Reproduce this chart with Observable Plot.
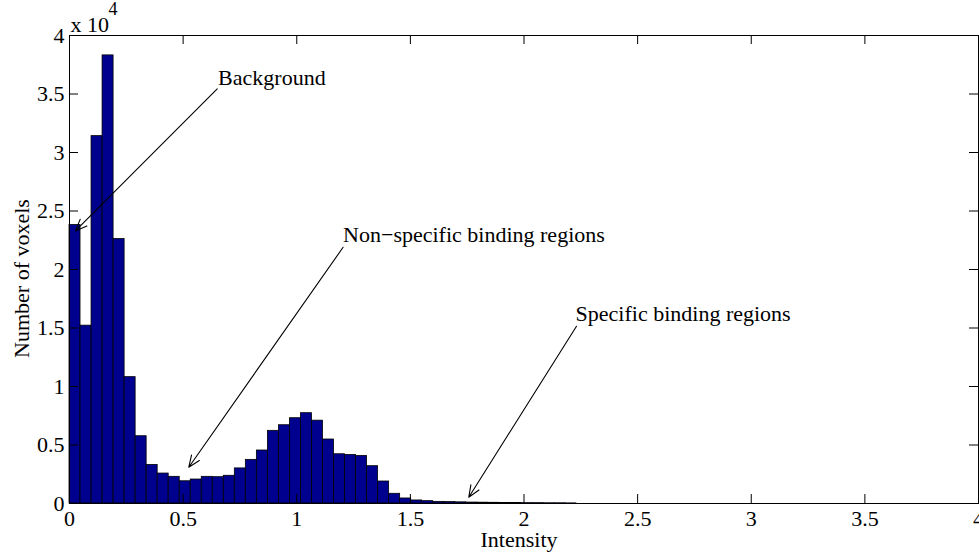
<!DOCTYPE html>
<html><head><meta charset="utf-8">
<script src="https://cdn.jsdelivr.net/npm/d3@7"></script>
<script src="https://cdn.jsdelivr.net/npm/@observablehq/plot@0.6"></script>
<style>body{margin:0;background:#fff}</style>
</head><body><div id="chart"></div>
<script>
// Histogram bin width (intensity units) and counts per bin
const binWidth = 0.0485;
const counts = [
  23800, 15200, 31400, 38300, 22600, 10800, 5750, 3300, 2560, 2280,
  1900, 2050, 2280, 2250, 2370, 3000, 3730, 4530, 6210, 6690,
  7290, 7720, 7080, 5470, 4210, 4150, 4070, 3190, 1880, 830,
  430, 260, 200, 140, 120, 100, 80, 70, 60, 50,
  40, 30, 30, 20, 20, 10
];
const xTicks = [0, 0.5, 1, 1.5, 2, 2.5, 3, 3.5, 4];
const yTicks = [0, 5000, 10000, 15000, 20000, 25000, 30000, 35000, 40000];

// Annotations (data coordinates)
const annLabels = ["Background", "Non\u2212specific binding regions", "Specific binding regions"];
const annTextX = [0.654, 1.204, 2.227];
const annTextY = [35790, 22310, 15560];
const arrowFromX = [0.65, 1.204, 2.231];
const arrowFromY = [35440, 21900, 15150];
const arrowToX = [0.026, 0.525, 1.757];
const arrowToY = [23300, 3100, 540];

const bars = counts.map((c, i) => ({x1: i * binWidth, x2: (i + 1) * binWidth, y: c}));
const ann = annLabels.map((_, i) => i);

const W = 979, H = 554, mL = 69, mR = 1, mT = 35, mB = 51;
const innerW = W - mL - mR, innerH = H - mT - mB;
const tick = 9;

const chart = Plot.plot({
  width: W, height: H,
  marginLeft: mL, marginRight: mR, marginTop: mT, marginBottom: mB,
  style: {fontFamily: '"Liberation Serif", "Times New Roman", serif', fontSize: "22px", background: "white", color: "black"},
  x: {domain: [0, 4]},
  y: {domain: [0, 40000]},
  marks: [
    Plot.rectY(bars, {x1: "x1", x2: "x2", y: "y", fill: "#00008f", stroke: "black", strokeWidth: 0.8}),
    Plot.frame({stroke: "black", strokeWidth: 1}),
    Plot.tickX(xTicks, {x: d => d, insetTop: innerH - tick, stroke: "black"}),
    Plot.tickX(xTicks, {x: d => d, insetBottom: innerH - tick, stroke: "black"}),
    Plot.tickY(yTicks, {y: d => d, insetRight: innerW - tick, stroke: "black"}),
    Plot.tickY(yTicks, {y: d => d, insetLeft: innerW - tick, stroke: "black"}),
    Plot.axisX({ticks: xTicks, tickSize: 0, tickPadding: 7, tickFormat: d => String(d), label: null}),
    Plot.axisY({ticks: yTicks, tickSize: 0, tickPadding: 5, tickFormat: d => String(d / 1e4), label: null}),
    Plot.text(["x 10"], {frameAnchor: "top-left", textAnchor: "start", lineAnchor: "bottom", dx: 1, dy: -3.5}),
    Plot.text(["4"], {frameAnchor: "top-left", textAnchor: "start", lineAnchor: "bottom", dx: 39, dy: -21, fontSize: 18}),
    Plot.text(["Intensity"], {frameAnchor: "bottom", textAnchor: "middle", lineAnchor: "bottom", dx: -5, dy: 43}),
    Plot.text(["Number of voxels"], {frameAnchor: "left", textAnchor: "middle", lineAnchor: "bottom", rotate: -90, dx: -41, dy: 9}),
    Plot.arrow(ann, {x1: i => arrowFromX[i], y1: i => arrowFromY[i], x2: i => arrowToX[i], y2: i => arrowToY[i], stroke: "black", strokeWidth: 1.1, headLength: 17, headAngle: 45}),
    Plot.text(ann, {x: i => annTextX[i], y: i => annTextY[i], text: i => annLabels[i], textAnchor: "start", lineAnchor: "bottom", fill: "black"})
  ]
});
document.getElementById("chart").append(chart);
</script>
</body></html>
